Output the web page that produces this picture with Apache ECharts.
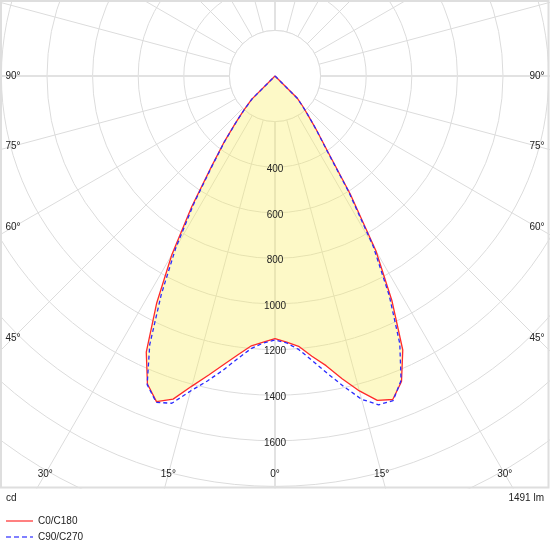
<!DOCTYPE html>
<html>
<head>
<meta charset="utf-8">
<script src="https://cdn.jsdelivr.net/npm/echarts@6/dist/echarts.min.js"></script>
<style>
html,body{margin:0;padding:0;background:#fff;}
#chart{width:550px;height:550px;}
</style>
</head>
<body>
<div id="chart"></div>
<script>
// ---- data (luminous intensity, cd) ----
const gamma = [0, 2.5, 5, 7.5, 10, 12.5, 15, 17.5, 20, 22.5, 25, 27.5, 30, 32.5, 35, 37.5, 40, 42.5, 45, 47.5, 60, 90, 180];
const c0   = [1152, 1168, 1188, 1232, 1284, 1343, 1408, 1486, 1520, 1462, 1336, 1125, 905, 680, 488, 370, 270, 200, 145, 0, 0, 0, 0];
const c180 = [1152, 1168, 1190, 1240, 1290, 1360, 1430, 1492, 1510, 1450, 1326, 1110, 885, 615, 400, 300, 228, 180, 140, 0, 0, 0, 0];
const c90  = [1158, 1172, 1200, 1250, 1310, 1370, 1430, 1505, 1523, 1465, 1300, 1080, 870, 660, 480, 365, 268, 198, 143, 0, 0, 0, 0];
const c270 = [1158, 1172, 1205, 1260, 1325, 1395, 1468, 1512, 1515, 1445, 1295, 1085, 860, 600, 390, 298, 228, 178, 138, 0, 0, 0, 0];
const seriesNames = ['C0/C180', 'C90/C270'];
const radiusTicks = [400, 600, 800, 1000, 1200, 1400, 1600];
const angleTicks = [0, 15, 30, 45, 60, 75, 90];
const unitLabel = 'cd';
const fluxLabel = '1491 lm';

// ---- layout ----
const CX = 275, CY = 76;
const K = 0.228;           // px per cd
const RMAX = 2200;
const FONT = '"Liberation Sans", Arial, sans-serif';
const GRID = '#dcdcdc';

// closed curve: right half (angle -g) from 180 down to 0, then left half (angle +g) from 0 up to 180
function closed(left, right) {
  const pts = [];
  for (let i = gamma.length - 1; i >= 0; i--) pts.push([right[i], -gamma[i]]);
  for (let i = 0; i < gamma.length; i++) pts.push([left[i], gamma[i]]);
  return pts;
}

const graphics = [];
const r200 = 200 * K;
graphics.push({type:'circle', z:1, shape:{cx:CX, cy:CY, r:r200}, style:{fill:'#fff', stroke:GRID, lineWidth:1}});
const mainLine = {stroke:'#e2e2e2', lineWidth:2};
graphics.push({type:'line', z:1, shape:{x1:0, y1:CY, x2:CX - r200, y2:CY}, style:mainLine});
graphics.push({type:'line', z:1, shape:{x1:CX + r200, y1:CY, x2:550, y2:CY}, style:mainLine});
graphics.push({type:'line', z:1, shape:{x1:CX, y1:0, x2:CX, y2:CY - r200}, style:mainLine});
graphics.push({type:'line', z:1, shape:{x1:CX, y1:CY + r200, x2:CX, y2:488}, style:mainLine});
// cover outside the plot box
graphics.push({type:'rect', z:50, shape:{x:0, y:488.5, width:550, height:62}, style:{fill:'#fff'}});
graphics.push({type:'rect', z:60, shape:{x:1, y:1, width:547.5, height:486.5}, style:{fill:'none', stroke:'#dedede', lineWidth:2}});

function txt(x, y, s, align) {
  return {type:'text', z:100, x:x, y:y,
    style:{text:s, fill:'#222', fontSize:10, fontFamily:FONT, align:align || 'center', verticalAlign:'middle'}};
}
// radius labels along 0 deg line
radiusTicks.forEach(v => graphics.push(txt(CX, CY + v * K + 2, String(v))));
// angle labels at the box edges
const XIN = 262, YIN = 474 - CY;
angleTicks.forEach(g => {
  const rad = g * Math.PI / 180, s = Math.sin(rad), c = Math.cos(rad);
  const tx = s > 1e-9 ? XIN / s : Infinity;
  const ty = c > 1e-9 ? YIN / c : Infinity;
  const t = Math.min(tx, ty);
  const sides = g === 0 ? [1] : [-1, 1];
  sides.forEach(sd => graphics.push(txt(CX + sd * t * s, CY + t * c, g + '°')));
});
graphics.push(txt(6, 498, unitLabel, 'left'));
graphics.push(txt(544, 498, fluxLabel, 'right'));

const chart = echarts.init(document.getElementById('chart'));
chart.setOption({
  animation: false,
  polar: {center: [CX, CY], radius: RMAX * K},
  angleAxis: {
    type: 'value', min: -180, max: 180, interval: 15, startAngle: 90, clockwise: true,
    axisLine: {show: false}, axisTick: {show: false}, axisLabel: {show: false},
    splitLine: {show: true, lineStyle: {color: GRID, width: 1}}
  },
  radiusAxis: {
    type: 'value', min: 0, max: RMAX, interval: 200,
    axisLine: {show: false}, axisTick: {show: false}, axisLabel: {show: false},
    splitLine: {show: true, lineStyle: {color: GRID, width: 1}}
  },
  legend: {
    orient: 'vertical', left: 5, top: 516, padding: 0, itemWidth: 27, itemHeight: 10, itemGap: 6, z: 100,
    selectedMode: false,
    textStyle: {fontSize: 10, color: '#222', fontFamily: FONT},
    data: [
      {name: seriesNames[0], itemStyle: {opacity: 0}, lineStyle: {color: '#ff8080', width: 2, type: 'solid', opacity: 1}},
      {name: seriesNames[1], itemStyle: {opacity: 0}, lineStyle: {color: '#8080ff', width: 2, type: [5, 3], opacity: 1}}
    ]
  },
  series: [
    {
      name: seriesNames[0], type: 'line', coordinateSystem: 'polar', data: closed(c0, c180),
      symbol: 'none', smooth: false, z: 2,
      itemStyle: {color: '#ff2a2a'},
      lineStyle: {color: '#ff2a2a', width: 1.3},
      areaStyle: {color: 'rgba(250,238,95,0.5)'}
    },
    {
      name: seriesNames[1], type: 'line', coordinateSystem: 'polar', data: closed(c90, c270),
      symbol: 'none', smooth: false, z: 3,
      itemStyle: {color: '#2a2aff'},
      lineStyle: {color: '#2a2aff', width: 1.3, type: [4, 3]}
    }
  ],
  graphic: graphics
});
</script>
</body>
</html>
